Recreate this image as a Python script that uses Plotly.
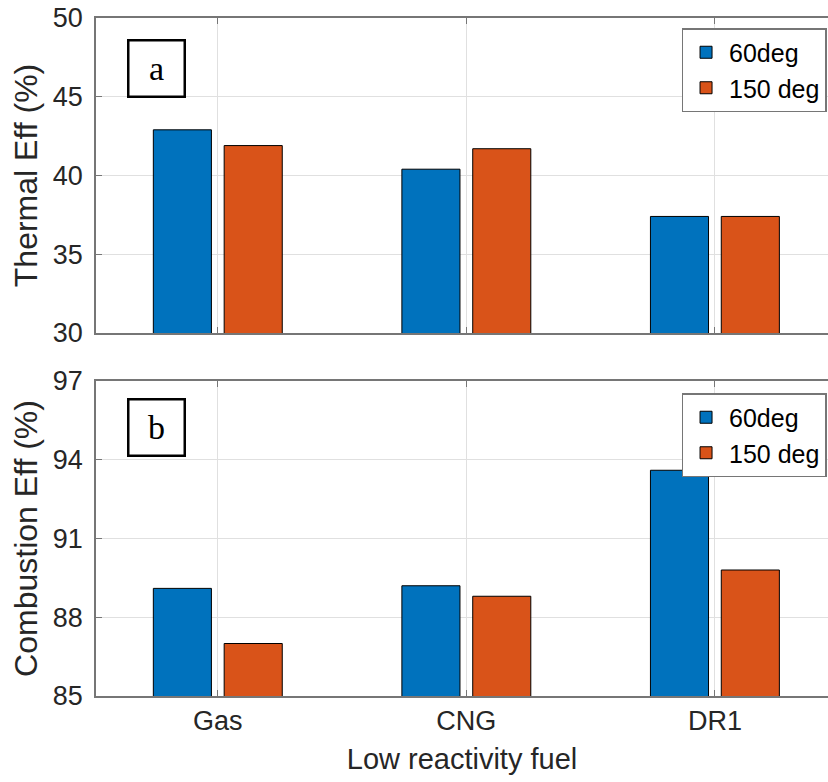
import plotly.graph_objects as go

fuels = ["Gas", "CNG", "DR1"]
series_names = ["60deg", "150 deg"]
thermal_60 = [42.9, 40.4, 37.4]
thermal_150 = [41.9, 41.7, 37.4]
comb_60 = [89.1, 89.2, 93.6]
comb_150 = [87.0, 88.8, 89.8]
thermal_ticks = [30, 35, 40, 45, 50]
comb_ticks = [85, 88, 91, 94, 97]

blue = "#0072BD"
orange = "#D95319"
FONT = "Liberation Sans, Arial, sans-serif"
TXT = "#262626"
AX = "#767676"
GRID = "#e0e0e0"

fig = go.Figure()
fig.add_trace(go.Bar(x=fuels, y=thermal_60, name=series_names[0], marker=dict(color=blue, line=dict(color="black", width=1)),
                     xaxis="x", yaxis="y", legend="legend"))
fig.add_trace(go.Bar(x=fuels, y=thermal_150, name=series_names[1], marker=dict(color=orange, line=dict(color="black", width=1)),
                     xaxis="x", yaxis="y", legend="legend"))
fig.add_trace(go.Bar(x=fuels, y=comb_60, name=series_names[0], marker=dict(color=blue, line=dict(color="black", width=1)),
                     xaxis="x2", yaxis="y2", legend="legend2"))
fig.add_trace(go.Bar(x=fuels, y=comb_150, name=series_names[1], marker=dict(color=orange, line=dict(color="black", width=1)),
                     xaxis="x2", yaxis="y2", legend="legend2"))

xcommon = dict(type="category", range=[-0.49, 2.455], showline=True, linecolor=AX, linewidth=1.5,
               mirror="ticks", ticks="inside", ticklen=6, tickcolor=AX, showgrid=True, gridcolor=GRID,
               gridwidth=1, zeroline=False, tickfont=dict(family=FONT, size=27, color=TXT))
ycommon = dict(showline=True, linecolor=AX, linewidth=1.5, ticks="inside", ticklen=6, tickcolor=AX,
               showgrid=True, gridcolor=GRID, gridwidth=1, zeroline=False,
               tickfont=dict(family=FONT, size=27, color=TXT), ticklabelstandoff=6)

top_dom = [1 - 315 / 678, 1.0]
bot_dom = [0.0, 315 / 678]

fig.update_layout(
    width=828, height=782,
    margin=dict(l=96, r=0, t=18, b=86),
    paper_bgcolor="white", plot_bgcolor="white",
    barmode="group", bargap=0.43, bargroupgap=0.18,
    font=dict(family=FONT, color=TXT),
    xaxis=dict(xcommon, anchor="y", domain=[0, 1], showticklabels=False),
    yaxis=dict(ycommon, anchor="x", domain=top_dom, range=[30, 50], tickvals=thermal_ticks,
               title=dict(text="Thermal Eff (%)", font=dict(family=FONT, size=32, color=TXT), standoff=6)),
    xaxis2=dict(xcommon, anchor="y2", domain=[0, 1],
                title=dict(text="Low reactivity fuel", font=dict(family=FONT, size=29, color=TXT), standoff=14)),
    yaxis2=dict(ycommon, anchor="x2", domain=bot_dom, range=[85, 97], tickvals=comb_ticks,
                title=dict(text="Combustion Eff (%)", font=dict(family=FONT, size=32, color=TXT), standoff=6)),
    legend=dict(x=0.998, xanchor="right", y=(696 - 28) / 678, yanchor="top", bgcolor="white",
                bordercolor=AX, borderwidth=1.5, font=dict(family=FONT, size=25, color="black"),
                tracegroupgap=0, itemwidth=36),
    legend2=dict(x=0.998, xanchor="right", y=(696 - 393) / 678, yanchor="top", bgcolor="white",
                 bordercolor=AX, borderwidth=1.5, font=dict(family=FONT, size=25, color="black"),
                 tracegroupgap=0, itemwidth=36),
    annotations=[
        dict(text="a", xref="x domain", yref="y domain", x=(156 - 96) / 732, y=(333 - 69) / 315,
             xanchor="center", yanchor="middle",
             showarrow=False, font=dict(family="Liberation Serif, Times New Roman, serif", size=34, color="black"),
             bordercolor="black", borderwidth=2.5, width=52, height=52, bgcolor="white"),
        dict(text="b", xref="x2 domain", yref="y2 domain", x=(156 - 96) / 732, y=(696 - 427) / 315,
             xanchor="center", yanchor="middle",
             showarrow=False, font=dict(family="Liberation Serif, Times New Roman, serif", size=34, color="black"),
             bordercolor="black", borderwidth=2.5, width=52, height=52, bgcolor="white"),
    ],
)

fig.write_html("out.html")
